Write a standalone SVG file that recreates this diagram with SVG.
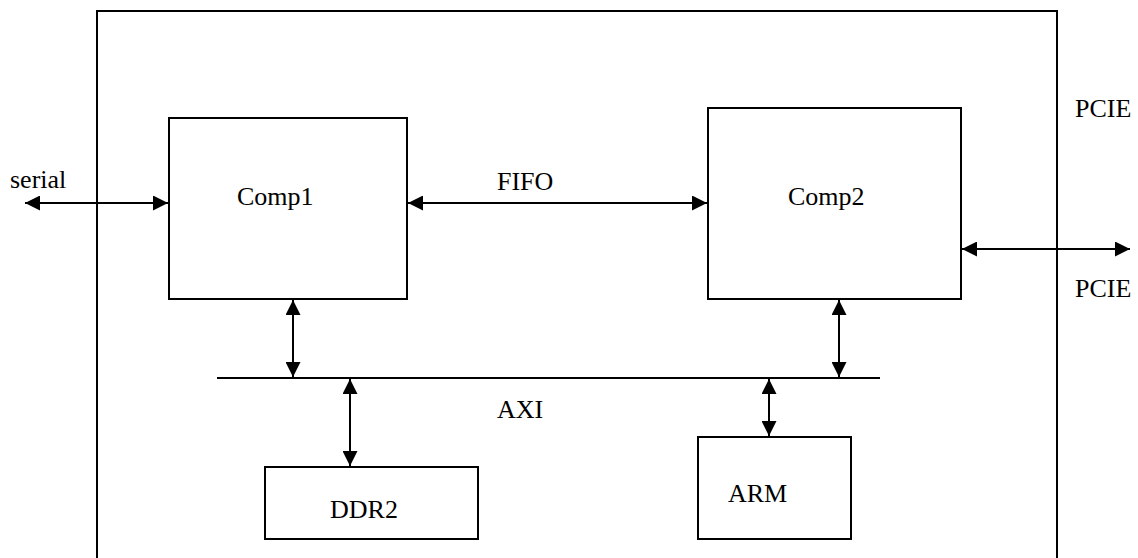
<svg xmlns="http://www.w3.org/2000/svg" width="1138" height="558" viewBox="0 0 1138 558">
<style>
.box{fill:#fff;stroke:#000;stroke-width:2}
.ln{stroke:#000;stroke-width:2;fill:none}
.ar{stroke:#000;stroke-width:2;fill:none;marker-start:url(#ah);marker-end:url(#ah)}
text{font-family:"Liberation Serif","Times New Roman",serif;font-size:26px;fill:#000}
</style>
<defs>
<marker id="ah" markerUnits="userSpaceOnUse" markerWidth="15" markerHeight="15" refX="15" refY="7.5" orient="auto-start-reverse" viewBox="0 0 15 15">
<path d="M0,0 L15,7.5 L0,15 z" fill="#000"/>
</marker>
</defs>
<rect width="1138" height="558" fill="#fff"/>
<g id="outer"><rect class="box" x="97" y="11" width="960" height="560"/></g>
<g id="comp1"><rect class="box" x="169" y="118" width="238" height="181"/><text x="237" y="205">Comp1</text></g>
<g id="comp2"><rect class="box" x="708" y="108" width="253" height="191"/><text x="788" y="205">Comp2</text></g>
<g id="ddr2"><rect class="box" x="265" y="467" width="213" height="72"/><text x="330" y="518">DDR2</text></g>
<g id="arm"><rect class="box" x="698" y="437" width="153" height="102"/><text x="728" y="502">ARM</text></g>
<g id="axi"><line class="ln" x1="217" y1="378" x2="880" y2="378"/><text x="497" y="418">AXI</text></g>
<g id="labels">
<text x="10" y="188">serial</text>
<text x="497" y="190">FIFO</text>
<text x="1075" y="117">PCIE</text>
<text x="1075" y="297">PCIE</text>
</g>
<g id="connectors">
<line class="ar" x1="25" y1="203" x2="168" y2="203"/>
<line class="ar" x1="408" y1="203" x2="707" y2="203"/>
<line class="ar" x1="962" y1="249" x2="1130" y2="249"/>
<line class="ar" x1="293" y1="300" x2="293" y2="377"/>
<line class="ar" x1="350" y1="379" x2="350" y2="466"/>
<line class="ar" x1="839" y1="300" x2="839" y2="377"/>
<line class="ar" x1="769" y1="379" x2="769" y2="436"/>
</g>
</svg>
